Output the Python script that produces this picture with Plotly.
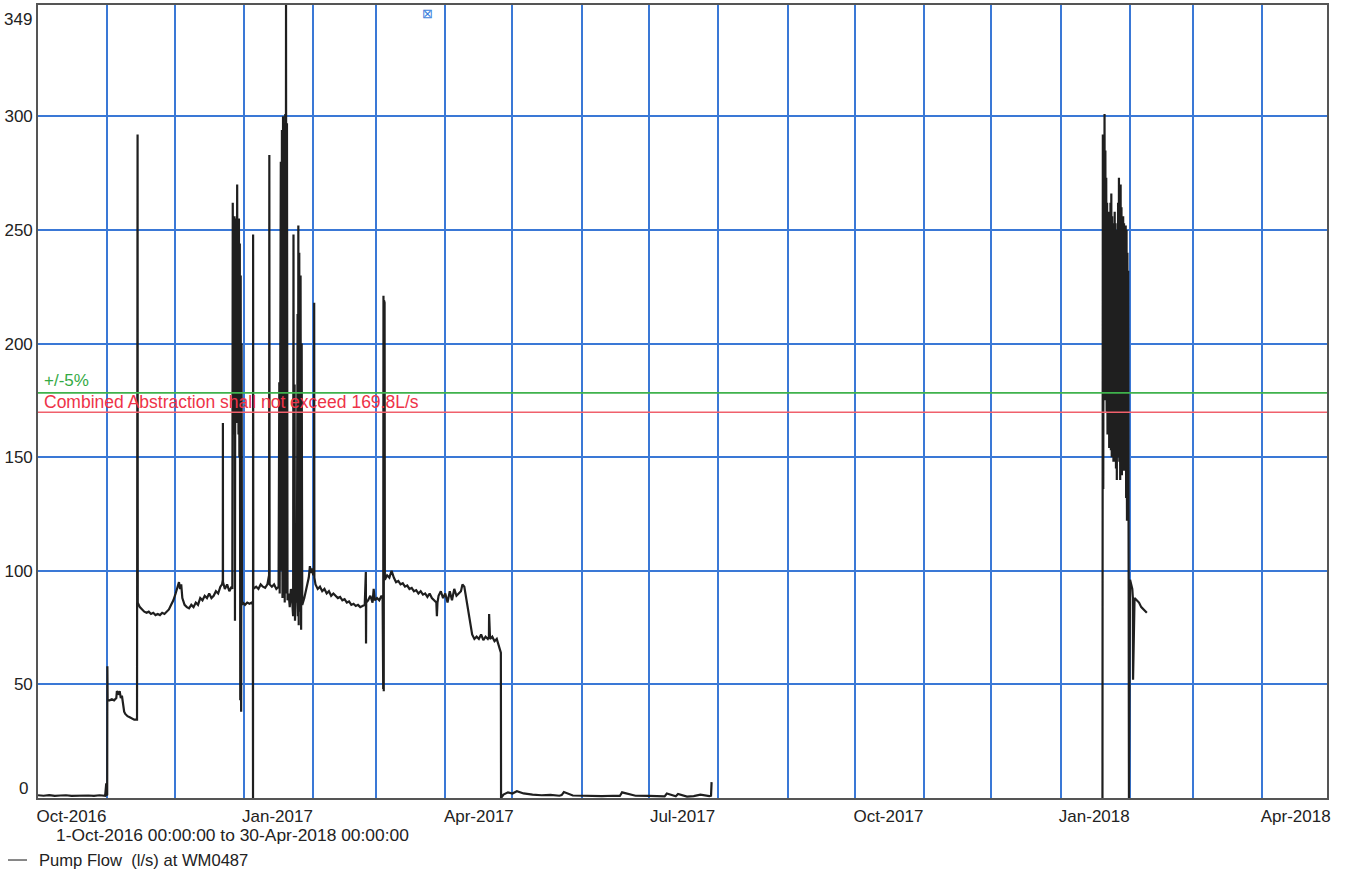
import pandas as pd
import plotly.graph_objects as go

# ---------------- data ----------------
series_name = "Pump Flow  (l/s) at WM0487"
limit_ls = 169.8
tolerance = 0.05

# Oct 2016 - mid Nov 2016
t_autumn16 = ["2016-10-01 00:00", "2016-10-03 12:00", "2016-10-06 00:00", "2016-10-08 12:00",
              "2016-10-11 00:00", "2016-10-13 12:00", "2016-10-16 00:00", "2016-10-18 12:00",
              "2016-10-21 00:00", "2016-10-23 12:00", "2016-10-26 00:00", "2016-10-28 12:00",
              "2016-10-31 00:00", "2016-10-31 12:00", "2016-10-31 14:00", "2016-10-31 22:00",
              "2016-11-01 00:00", "2016-11-01 03:00", "2016-11-02 00:00", "2016-11-03 00:00",
              "2016-11-04 00:00", "2016-11-05 00:00", "2016-11-05 06:00", "2016-11-06 00:00",
              "2016-11-06 12:00", "2016-11-07 00:00", "2016-11-07 12:00", "2016-11-08 00:00",
              "2016-11-08 12:00", "2016-11-09 00:00", "2016-11-10 00:00", "2016-11-11 00:00",
              "2016-11-12 00:00", "2016-11-13 00:00", "2016-11-14 06:00"]
v_autumn16 = [1.2, 1.0, 1.3, 0.9, 1.1, 1.2, 0.9, 1.0, 1.3, 1.1, 0.9, 1.2,
              1.0, 6.5, 1.4, 1.2, 58, 43, 43, 43.5, 43, 44, 47, 46,
              47, 44, 45, 41, 38, 37, 36, 35.5, 35, 34.5, 34.5]

# mid Nov - Dec 26 2016
t_dec16 = ["2016-11-14 12:00", "2016-11-14 14:00", "2016-11-15 12:00", "2016-11-16 12:00",
           "2016-11-17 12:00", "2016-11-18 12:00", "2016-11-19 12:00", "2016-11-20 12:00",
           "2016-11-21 12:00", "2016-11-22 12:00", "2016-11-23 12:00", "2016-11-24 12:00",
           "2016-11-25 12:00", "2016-11-26 12:00", "2016-11-27 12:00", "2016-11-28 12:00",
           "2016-11-29 12:00", "2016-11-30 12:00", "2016-12-01 12:00", "2016-12-02 12:00",
           "2016-12-03 00:00", "2016-12-03 12:00", "2016-12-04 00:00", "2016-12-04 12:00",
           "2016-12-05 12:00", "2016-12-06 12:00", "2016-12-07 12:00", "2016-12-08 12:00",
           "2016-12-09 12:00", "2016-12-10 12:00", "2016-12-11 12:00", "2016-12-12 12:00",
           "2016-12-13 12:00", "2016-12-14 12:00", "2016-12-15 12:00", "2016-12-16 12:00",
           "2016-12-17 12:00", "2016-12-18 12:00", "2016-12-19 12:00", "2016-12-20 12:00",
           "2016-12-21 12:00", "2016-12-22 06:00", "2016-12-22 14:00", "2016-12-22 15:00",
           "2016-12-22 16:00", "2016-12-23 12:00", "2016-12-24 12:00", "2016-12-25 12:00",
           "2016-12-26 12:00"]
v_dec16 = [292, 86, 84, 83, 82, 81.5, 82, 81, 81.5, 80.5, 81, 80.5,
           81.5, 81, 82, 83, 85, 87, 90, 93, 95, 92, 94, 88,
           85, 84, 83.5, 85, 84, 86, 85, 88, 87, 89, 88, 90,
           88, 89, 91, 90, 93, 94, 96, 165, 95, 92, 94, 91,
           93]

# dense pumping burst, Dec 26 - Dec 31 2016
burst_dec16_start = "2016-12-26 20:00"
burst_dec16_end = "2016-12-31 04:00"
v_burst_dec16 = [92, 262, 170, 250, 160, 256, 78, 255, 175, 252, 165, 270,
                 180, 248, 160, 255, 150, 244, 43, 230, 38, 200, 85]

# Dec 31 2016 - Feb 2 2017
t_jan17 = ["2016-12-31 12:00", "2017-01-01 12:00", "2017-01-02 12:00", "2017-01-03 12:00",
           "2017-01-04 12:00", "2017-01-05 00:00", "2017-01-05 02:00", "2017-01-05 03:00",
           "2017-01-05 05:00", "2017-01-06 12:00", "2017-01-07 12:00", "2017-01-08 12:00",
           "2017-01-09 12:00", "2017-01-10 12:00", "2017-01-11 12:00", "2017-01-12 06:00",
           "2017-01-12 09:00", "2017-01-12 12:00", "2017-01-13 12:00", "2017-01-14 12:00",
           "2017-01-15 12:00", "2017-01-16 12:00", "2017-01-16 20:00", "2017-01-17 00:00",
           "2017-01-17 12:00", "2017-01-17 18:00", "2017-01-18 00:00", "2017-01-18 06:00",
           "2017-01-18 12:00", "2017-01-18 18:00", "2017-01-19 00:00", "2017-01-19 06:00",
           "2017-01-19 12:00", "2017-01-19 16:00", "2017-01-19 20:00", "2017-01-20 00:00",
           "2017-01-20 06:00", "2017-01-20 12:00", "2017-01-21 00:00", "2017-01-21 12:00",
           "2017-01-22 00:00", "2017-01-22 12:00", "2017-01-23 00:00", "2017-01-23 04:00",
           "2017-01-23 08:00", "2017-01-23 16:00", "2017-01-23 20:00", "2017-01-24 08:00",
           "2017-01-24 16:00", "2017-01-25 00:00", "2017-01-25 04:00", "2017-01-25 08:00",
           "2017-01-25 12:00", "2017-01-25 18:00", "2017-01-26 00:00", "2017-01-26 08:00",
           "2017-01-26 14:00", "2017-01-26 20:00", "2017-01-27 02:00", "2017-01-28 00:00",
           "2017-01-29 00:00", "2017-01-30 00:00", "2017-01-30 12:00", "2017-01-31 00:00",
           "2017-01-31 12:00", "2017-02-01 00:00", "2017-02-01 08:00", "2017-02-01 10:00",
           "2017-02-01 12:00", "2017-02-02 00:00"]
v_jan17 = [86, 85, 86, 85.5, 86, 85, 0, 248, 92, 93, 92, 94,
           93, 92.5, 94, 98, 283, 94, 93, 94, 92, 93, 183, 90,
           280, 100, 294, 88, 300, 120, 296, 86, 301, 95, 349, 90,
           297, 87, 90, 84, 92, 88, 80, 248, 82, 182, 78, 92,
           86, 213, 80, 252, 76, 240, 82, 230, 74, 200, 85, 88,
           92, 97, 102, 99, 101, 98, 100, 218, 97, 94]

# Feb 3 - Apr 26 2017
t_spring17 = ["2017-02-03", "2017-02-04", "2017-02-05", "2017-02-06", "2017-02-07", "2017-02-08",
              "2017-02-09", "2017-02-10", "2017-02-11", "2017-02-12", "2017-02-13", "2017-02-14",
              "2017-02-15", "2017-02-16", "2017-02-17", "2017-02-18", "2017-02-19", "2017-02-20",
              "2017-02-21", "2017-02-22", "2017-02-23", "2017-02-24", "2017-02-24 12:00",
              "2017-02-24 14:00", "2017-02-24 16:00", "2017-02-25 12:00", "2017-02-26 12:00",
              "2017-02-27 12:00", "2017-02-28 00:00", "2017-02-28 12:00", "2017-03-01 12:00",
              "2017-03-02 12:00", "2017-03-03 12:00", "2017-03-04 00:00", "2017-03-04 03:00",
              "2017-03-04 06:00", "2017-03-04 09:00", "2017-03-04 12:00", "2017-03-04 15:00",
              "2017-03-04 18:00", "2017-03-04 21:00", "2017-03-05", "2017-03-06", "2017-03-07",
              "2017-03-08", "2017-03-09", "2017-03-10", "2017-03-11", "2017-03-12", "2017-03-13",
              "2017-03-14", "2017-03-15", "2017-03-16", "2017-03-17", "2017-03-18", "2017-03-19",
              "2017-03-20", "2017-03-21", "2017-03-22", "2017-03-23", "2017-03-24", "2017-03-25",
              "2017-03-26", "2017-03-27", "2017-03-28 00:00", "2017-03-28 06:00", "2017-03-28 12:00",
              "2017-03-29", "2017-03-30", "2017-03-31", "2017-04-01", "2017-04-02", "2017-04-03",
              "2017-04-04", "2017-04-05", "2017-04-06", "2017-04-07", "2017-04-08",
              "2017-04-08 16:00", "2017-04-09 12:00", "2017-04-10", "2017-04-10 12:00",
              "2017-04-11", "2017-04-11 12:00", "2017-04-12 12:00", "2017-04-13", "2017-04-14",
              "2017-04-15", "2017-04-16", "2017-04-17", "2017-04-18", "2017-04-19", "2017-04-20",
              "2017-04-20 12:00", "2017-04-20 14:00", "2017-04-21", "2017-04-22", "2017-04-23",
              "2017-04-24", "2017-04-25", "2017-04-25 18:00", "2017-04-25 20:00"]
v_spring17 = [92, 93, 91, 92, 90, 91, 89, 90, 89, 88, 88.5, 87,
              87.5, 86, 86.5, 85, 85.5, 84.5, 85, 84, 84.5, 85, 99.5,
              68, 86, 87, 89, 86, 92, 87, 88, 87, 89, 88, 220,
              48, 221, 47, 219, 55, 218, 96, 98, 97, 100, 97, 95,
              95.5, 94, 94.5, 93, 93.5, 92, 92.5, 91, 91.5, 90, 91, 89.5,
              90, 88.5, 90, 88, 87, 86, 80, 86, 89, 91, 88, 90,
              86, 91, 87, 92, 89, 90, 91, 94, 93, 90, 87, 85,
              82, 75, 72, 70, 71, 70, 72, 69.5, 71, 70, 71, 81,
              70, 71, 69, 70, 67, 65, 64, 0]

# near-zero flows Apr 26 - Jul 29 2017
t_summer17 = ["2017-04-25 22:00", "2017-04-27", "2017-04-29", "2017-05-01", "2017-05-03", "2017-05-06",
              "2017-05-10", "2017-05-14", "2017-05-18", "2017-05-22", "2017-05-23", "2017-05-24",
              "2017-05-28", "2017-06-01", "2017-06-05", "2017-06-10", "2017-06-15", "2017-06-18",
              "2017-06-19", "2017-06-25", "2017-07-01", "2017-07-05", "2017-07-08", "2017-07-09",
              "2017-07-13", "2017-07-14", "2017-07-18", "2017-07-21", "2017-07-24", "2017-07-28",
              "2017-07-28 18:00", "2017-07-29"]
v_summer17 = [1.5, 2.5, 2.0, 3.0, 2.0, 1.5, 1.2, 1.4, 1.0, 1.3, 2.6, 1.1,
              1.0, 1.2, 0.8, 1.0, 0.9, 2.5, 1.0, 0.9, 0.8, 0.7, 2.0, 0.8,
              1.8, 0.6, 0.8, 1.5, 0.8, 1.0, 7.0, 0.5]

# restart Jan 2018
t_jan18_start = ["2018-01-19 14:00", "2018-01-19 16:00"]
v_jan18_start = [0, 292]

# dense pumping burst, Jan 19 - Jan 31 2018
burst_jan18_start = "2018-01-19 20:00"
burst_jan18_end = "2018-01-31 00:00"
v_burst_jan18 = [136, 273, 176, 301, 175, 285, 176, 273, 170, 262, 160, 254,
                 165, 258, 154, 253, 158, 262, 153, 266, 150, 256, 153, 250,
                 148, 253, 152, 258, 148, 253, 145, 247, 140, 250, 150, 262,
                 153, 273, 148, 268, 140, 270, 146, 260, 142, 254, 145, 256,
                 144, 253, 147, 251, 144, 252, 132, 250, 122, 240, 138, 232]

# tail Jan 31 - Feb 8 2018
t_feb18 = ["2018-01-31 04:00", "2018-01-31 06:00", "2018-01-31 08:00", "2018-01-31 10:00",
           "2018-01-31 12:00", "2018-02-01 00:00", "2018-02-01 12:00", "2018-02-02 00:00",
           "2018-02-02 06:00", "2018-02-02 08:00", "2018-02-03 00:00", "2018-02-04 00:00",
           "2018-02-05 00:00", "2018-02-06 00:00", "2018-02-07 00:00", "2018-02-08 00:00",
           "2018-02-08 12:00"]
v_feb18 = [102, 45, 100, 0, 96, 94, 92, 88, 52, 88, 87, 86,
           84, 83, 82, 81.5, 81]

x_tick_dates = ["2016-10-16", "2017-01-16", "2017-04-16", "2017-07-16",
                "2017-10-16", "2018-01-16", "2018-04-16"]
x_tick_text = ["Oct-2016", "Jan-2017", "Apr-2017", "Jul-2017",
               "Oct-2017", "Jan-2018", "Apr-2018"]
y_tick_vals = [50, 100, 150, 200, 250, 300]
y_min, y_max = 0, 349
period_text = "1-Oct-2016 00:00:00 to 30-Apr-2018 00:00:00"

# ---------------- assemble ----------------
def rng(a, b, n):
    return pd.date_range(a, b, periods=n).strftime("%Y-%m-%d %H:%M").tolist()

x_all = (t_autumn16 + t_dec16 + rng(burst_dec16_start, burst_dec16_end, len(v_burst_dec16))
         + t_jan17 + t_spring17 + t_summer17 + [None]
         + t_jan18_start + rng(burst_jan18_start, burst_jan18_end, len(v_burst_jan18)) + t_feb18)
y_all = (v_autumn16 + v_dec16 + v_burst_dec16 + v_jan17 + v_spring17 + v_summer17 + [None]
         + v_jan18_start + v_burst_jan18 + v_feb18)

FONT = "Liberation Sans, Arial, sans-serif"
GRID = "#3a78d6"
FS = 17
LINE_COLOR = "#1f1f1f"

fig = go.Figure()
fig.add_trace(go.Scatter(x=x_all, y=y_all, mode="lines", name=series_name,
                         line=dict(color=LINE_COLOR, width=2.2), connectgaps=False,
                         showlegend=False))

upper = limit_ls * (1 + tolerance)
fig.add_shape(type="line", xref="paper", x0=0, x1=1, yref="y", y0=upper, y1=upper,
              line=dict(color="#3fb24c", width=1.6), layer="above")
fig.add_shape(type="line", xref="paper", x0=0, x1=1, yref="y", y0=limit_ls, y1=limit_ls,
              line=dict(color="#f0606c", width=1.6), layer="above")

# legend key (drawn below the axis, like the original instrument printout)
legend_y = -0.0782
fig.add_shape(type="line", xref="paper", yref="paper", x0=-0.0233, x1=-0.0085,
              y0=legend_y, y1=legend_y, line=dict(color="#555", width=1.4))

annots = [
    dict(text="+/-5%", x=0, xref="paper", xanchor="left", xshift=4, y=upper, yref="y",
         yanchor="bottom", yshift=1, font=dict(color="#34aa44", size=FS), showarrow=False),
    dict(text="Combined Abstraction shall not exceed 169.8L/s", x=0, xref="paper",
         xanchor="left", xshift=4, y=limit_ls, yref="y", yanchor="bottom", yshift=-2,
         font=dict(color="#ee3348", size=17.5), showarrow=False),
    dict(text=str(y_max), x=0, xref="paper", xanchor="right", xshift=-4, y=y_max, yref="y",
         yanchor="top", yshift=-3, font=dict(color="#222", size=FS), showarrow=False),
    dict(text=str(y_min), x=0, xref="paper", xanchor="right", xshift=-8, y=y_min, yref="y",
         yanchor="bottom", yshift=-2, font=dict(color="#222", size=FS), showarrow=False),
    dict(text=period_text, x=0.0124, xref="paper", xanchor="left", y=-0.0467, yref="paper",
         yanchor="middle", font=dict(color="#222", size=17.4), showarrow=False),
    dict(text=series_name, x=-0.001, xref="paper", xanchor="left", y=legend_y, yref="paper",
         yanchor="middle", font=dict(color="#222", size=16.6), showarrow=False),
    dict(text="⊠", x=0.3018, xref="paper", xanchor="center", y=0.9887, yref="paper",
         yanchor="middle", font=dict(color="#3d7fdc", size=13), showarrow=False),
]

fig.update_layout(
    width=1351, height=874,
    margin=dict(l=38, r=24, t=5, b=76),
    paper_bgcolor="white", plot_bgcolor="white",
    font=dict(family=FONT, size=FS, color="#222"),
    showlegend=False,
    annotations=annots,
    xaxis=dict(type="date", range=["2016-10-01", "2018-04-30"],
               tickmode="array", tickvals=x_tick_dates, ticktext=x_tick_text,
               showgrid=False, ticks="", ticklabelstandoff=2,
               tickfont=dict(size=FS, color="#222"),
               minor=dict(tickmode="linear", tick0="2016-10-01", dtick="M1",
                          showgrid=True, gridcolor=GRID, gridwidth=1.7, ticks=""),
               showline=True, mirror=True, linecolor="#555", linewidth=1.6,
               zeroline=False, automargin=False),
    yaxis=dict(range=[y_min, y_max], tickmode="array", tickvals=y_tick_vals,
               showgrid=True, gridcolor=GRID, gridwidth=1.7, zeroline=False,
               ticks="", tickfont=dict(size=FS, color="#222"),
               showline=True, mirror=True, linecolor="#555", linewidth=1.6,
               automargin=False),
)

fig.write_html("out.html", config={"displayModeBar": False},
               post_script="document.body.style.margin='0px';")
